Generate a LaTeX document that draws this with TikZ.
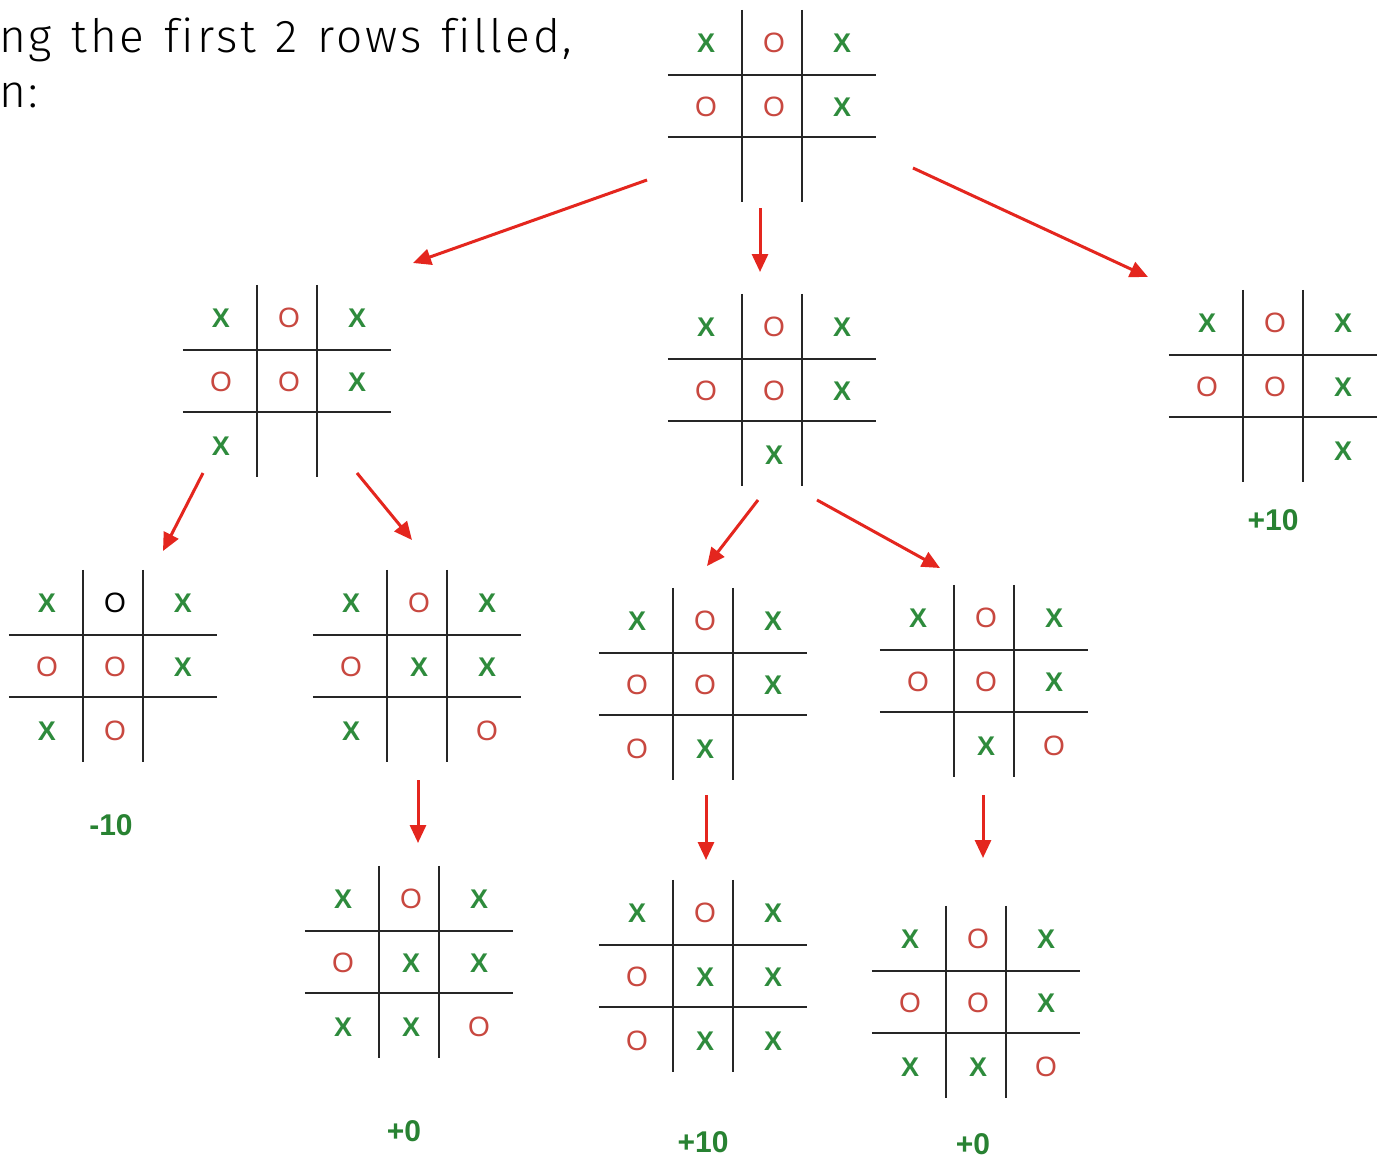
\documentclass[tikz,border=0pt]{standalone}
\usepackage{fontspec}
\usetikzlibrary{arrows.meta,calc}
\newfontfamily\bodyfont{Fira Sans Light}[LetterSpace=6.2,WordSpace=1.25,Ligatures=NoCommon]
\newfontfamily\markfont{Liberation Sans}
\definecolor{MarkGreen}{RGB}{46,139,60}
\definecolor{MarkRed}{RGB}{200,72,64}
\definecolor{ArrowRed}{RGB}{228,38,30}
\definecolor{ScoreGreen}{RGB}{40,130,50}
\tikzset{
  boardbox/.style={minimum width=208pt,minimum height=192pt,inner sep=0pt},
  gridline/.style={line width=2.6pt,black!85},
  cell X/.style={font=\markfont\bfseries\fontsize{27}{27}\selectfont,text=MarkGreen,inner sep=0pt},
  cell O/.style={font=\markfont\fontsize{28}{28}\selectfont,text=MarkRed,inner sep=0pt},
  cell K/.style={cell O,text=black},
  score/.style={font=\markfont\bfseries\fontsize{30}{30}\selectfont,text=ScoreGreen},
  movearrow/.style={ArrowRed,line width=3pt,-{Triangle[length=18pt,width=16pt]}},
  bodytext/.style={font=\bodyfont\fontsize{46}{46}\selectfont,inner sep=0pt,anchor=base west}
}
\newcommand{\cellletter}[1]{\if#1KO\else#1\fi}
% board: name, centre, filled cells col/row/mark
\newcommand{\tttboard}[3]{%
  \node[boardbox] (#1) at #2 {};
  \foreach \dx in {-30,30}
    \draw[gridline] ([xshift=\dx pt]#1.north) -- ([xshift=\dx pt]#1.south);
  \foreach \dy in {-31,31}
    \draw[gridline] ([yshift=\dy pt]#1.west) -- ([yshift=\dy pt]#1.east);
  \foreach \col/\row/\mk in {#3}
    \node[cell \mk] (#1-\col\row) at ($(#1)+({\col*68-66},{\row*64-63})$) {\cellletter\mk};
}
\begin{document}
\begin{tikzpicture}[x=1pt,y=-1pt]
  \fill[white] (0,0) rectangle (1383,1168);
  \useasboundingbox (0,0) rectangle (1383,1168);
  \node[bodytext] (line2) at (-1,52) {ng the first 2 rows filled,};
  \node[bodytext] (line3) at (-1,107) {n:};
  % root and first replies
  \tttboard{b0}{(772,106)}{0/0/X,1/0/O,2/0/X,0/1/O,1/1/O,2/1/X}
  \tttboard{b1}{(287,381)}{0/0/X,1/0/O,2/0/X,0/1/O,1/1/O,2/1/X,0/2/X}
  \tttboard{b2}{(772,390)}{0/0/X,1/0/O,2/0/X,0/1/O,1/1/O,2/1/X,1/2/X}
  \tttboard{b3}{(1273,386)}{0/0/X,1/0/O,2/0/X,0/1/O,1/1/O,2/1/X,2/2/X}
  % second level
  \tttboard{b4}{(113,666)}{0/0/X,1/0/K,2/0/X,0/1/O,1/1/O,2/1/X,0/2/X,1/2/O}
  \tttboard{b5}{(417,666)}{0/0/X,1/0/O,2/0/X,0/1/O,1/1/X,2/1/X,0/2/X,2/2/O}
  \tttboard{b6}{(703,684)}{0/0/X,1/0/O,2/0/X,0/1/O,1/1/O,2/1/X,0/2/O,1/2/X}
  \tttboard{b7}{(984,681)}{0/0/X,1/0/O,2/0/X,0/1/O,1/1/O,2/1/X,1/2/X,2/2/O}
  % full boards
  \tttboard{b8}{(409,962)}{0/0/X,1/0/O,2/0/X,0/1/O,1/1/X,2/1/X,0/2/X,1/2/X,2/2/O}
  \tttboard{b9}{(703,976)}{0/0/X,1/0/O,2/0/X,0/1/O,1/1/X,2/1/X,0/2/O,1/2/X,2/2/X}
  \tttboard{b10}{(976,1002)}{0/0/X,1/0/O,2/0/X,0/1/O,1/1/O,2/1/X,0/2/X,1/2/X,2/2/O}
  % moves
  \foreach \from/\fx/\fy/\to/\tx/\ty in {
      b0/-125/74/b1/126/-118, b0/-12/102/b2/-12/-118, b0/141/62/b3/-125/-109,
      b1/-84/92/b4/50/-115, b1/70/92/b5/-5/-126,
      b2/-14/110/b6/4/-118, b2/45/110/b7/-44/-113,
      b5/1/114/b8/9/-119, b6/3/111/b9/3/-116, b7/-1/114/b10/7/-144}
    \draw[movearrow] ($(\from)+(\fx,\fy)$) -- ($(\to)+(\tx,\ty)$);
  % scores
  \node[score] (s3) at (1273,520) {+10};
  \node[score] (s4) at (111,825) {-10};
  \node[score] (s8) at (404,1131) {+0};
  \node[score] (s9) at (703,1142) {+10};
  \node[score] (s10) at (973,1144) {+0};
\end{tikzpicture}
\end{document}
